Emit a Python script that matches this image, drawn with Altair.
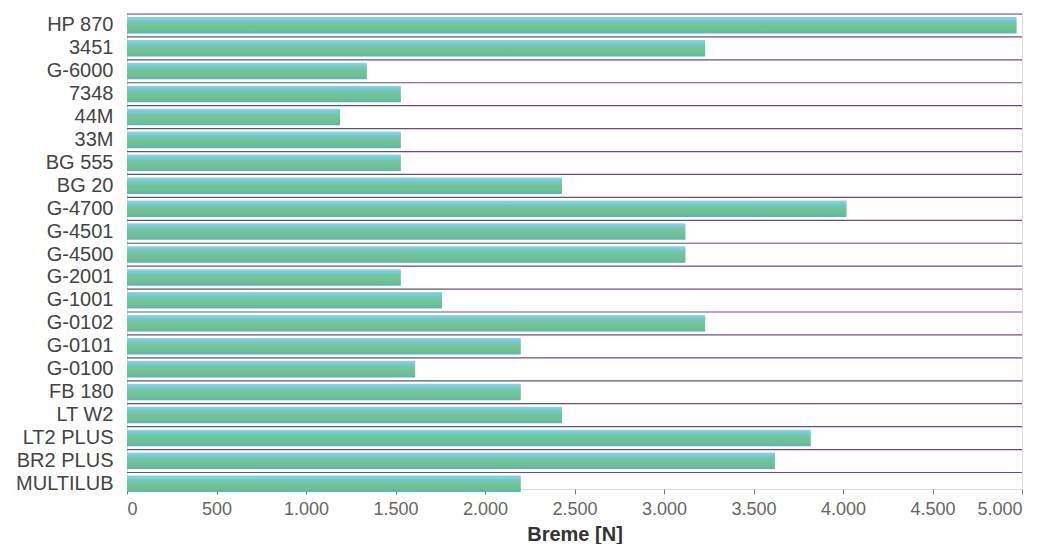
import altair as alt
import pandas as pd

categories = ["HP 870", "3451", "G-6000", "7348", "44M", "33M", "BG 555", "BG 20",
              "G-4700", "G-4501", "G-4500", "G-2001", "G-1001", "G-0102", "G-0101",
              "G-0100", "FB 180", "LT W2", "LT2 PLUS", "BR2 PLUS", "MULTILUB"]
values = [4970, 3230, 1340, 1530, 1190, 1530, 1530, 2430,
          4020, 3120, 3120, 1530, 1760, 3230, 2200,
          1610, 2200, 2430, 3820, 3620, 2200]
x_ticks = [0, 500, 1000, 1500, 2000, 2500, 3000, 3500, 4000, 4500, 5000]

df = pd.DataFrame({"name": categories, "value": values})

gradient = alt.Gradient(
    gradient="linear", x1=0, y1=0, x2=0, y2=1,
    stops=[
        alt.GradientStop(color="#8fd6dc", offset=0),
        alt.GradientStop(color="#6cc6c8", offset=0.3),
        alt.GradientStop(color="#76c484", offset=0.55),
        alt.GradientStop(color="#6cc09a", offset=0.78),
        alt.GradientStop(color="#58b4bc", offset=1),
    ],
)

y_scale = alt.Scale(paddingInner=0.28, paddingOuter=0)

x_enc = alt.X("value:Q",
              scale=alt.Scale(domain=[0, 5000], nice=False),
              axis=alt.Axis(values=x_ticks, title="Breme [N]", grid=False,
                            labelExpr="replace(format(datum.value, ','), ',', '.')",
                            labelFontSize=18, labelColor="#666", labelPadding=6,
                            labelFont="Liberation Sans",
                            tickColor="#777", tickSize=5, domain=False,
                            titleFont="Liberation Sans", titleFontSize=20,
                            titleFontWeight="bold", titleColor="#333", titlePadding=6))

bars = alt.Chart(df).mark_bar(color=gradient, yOffset=3).encode(
    x=x_enc,
    y=alt.Y("name:N", sort=categories, scale=y_scale,
            axis=alt.Axis(title=None, ticks=False, domain=False, grid=False,
                          labelFontSize=20, labelColor="#444", labelPadding=14,
                          labelFont="Liberation Sans", labelLimit=200,
                          labelOffset=3,
                          minExtent=119, maxExtent=119)),
)

grid = alt.Chart(df).mark_rule(color="#6e4a82", strokeWidth=1.2).encode(
    y=alt.Y("name:N", sort=categories, scale=y_scale, bandPosition=0),
    x=alt.value(0),
    x2=alt.value(895),
)

chart = alt.layer(grid, bars).properties(
    width=895, height=475,
    padding={"left": 0, "top": 5, "right": 5, "bottom": 0},
).configure_view(
    stroke="#555", strokeWidth=1.2
).configure(background="white")

chart.save("out.html", embed_options={"renderer": "svg", "actions": False})
